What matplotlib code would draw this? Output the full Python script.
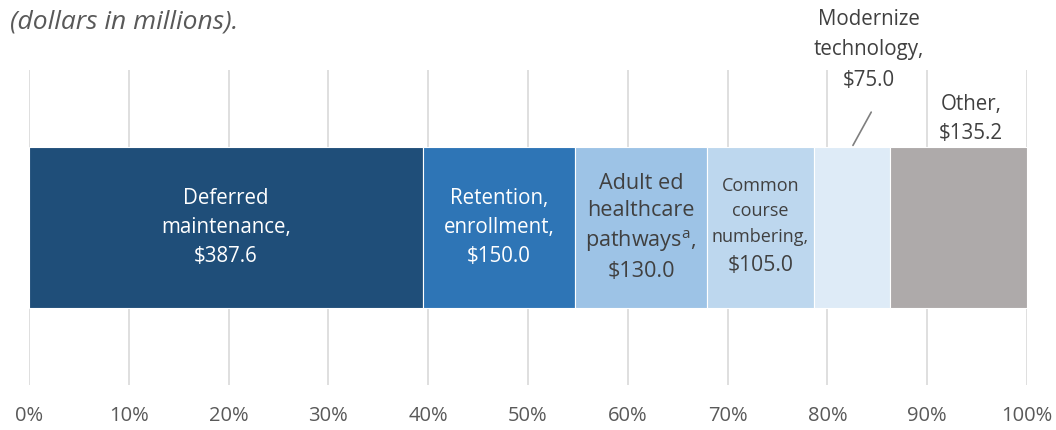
import numpy as np
import matplotlib
matplotlib.use("Agg")
import matplotlib.pyplot as plt

plt.rcParams["font.family"] = ["Open Sans", "DejaVu Sans"]
plt.rcParams["mathtext.fontset"] = "custom"
plt.rcParams["mathtext.rm"] = "Open Sans"

# spending by category, dollars in millions
categories = ["Deferred maintenance", "Retention, enrollment",
              "Adult ed healthcare pathways", "Common course numbering",
              "Modernize technology", "Other"]
amounts = [387.6, 150.0, 130.0, 105.0, 75.0, 135.2]
labels = ["Deferred\nmaintenance,\n$387.6",
          "Retention,\nenrollment,\n$150.0",
          "Adult ed\nhealthcare\npathways$^{\\mathrm{a}}$,\n$130.0",
          "Common\ncourse\nnumbering,",
          "Modernize\ntechnology,\n$75.0",
          "Other,\n$135.2"]
colors = ["#1F4E79", "#2E75B6", "#9DC3E6", "#BDD7EE", "#DEEBF7", "#AEAAAA"]
xticks = np.arange(0, 101, 10)

shares = np.array(amounts) / np.sum(amounts) * 100
lefts = np.concatenate([[0], np.cumsum(shares)[:-1]])
mids = lefts + shares / 2

fig = plt.figure(figsize=(10.56, 4.3), dpi=100)
ax = fig.add_axes([0.0275, 0.105, 0.945, 0.733])

ax.barh([0], shares, left=lefts, height=0.51, color=colors,
        edgecolor="white", linewidth=0.8, zorder=2)

ax.set_xlim(0, 100)
ax.set_ylim(-0.5, 0.5)
ax.set_xticks(xticks)
ax.set_xticklabels([f"{t}%" for t in xticks], fontsize=14.5, color="#595959")
ax.tick_params(axis="x", length=0, pad=15)
ax.set_yticks([])
ax.grid(axis="x", color="#D9D9D9", lw=1.2, zorder=0)
for s in ax.spines.values():
    s.set_visible(False)

# labels inside the bar
ax.text(mids[0], 0, labels[0], ha="center", va="center", fontsize=14.8,
        color="white", linespacing=1.5, zorder=3)
ax.text(mids[1], 0, labels[1], ha="center", va="center", fontsize=14.8,
        color="white", linespacing=1.5, zorder=3)
ax.text(mids[2], 0, labels[2], ha="center", va="center", fontsize=15.6,
        color="#404040", linespacing=1.4, zorder=3)
# common course numbering: smaller name, normal-size amount
ax.text(mids[3], 0.05, labels[3], ha="center", va="center", fontsize=13,
        color="#404040", linespacing=1.55, zorder=3)
ax.text(mids[3], -0.122, f"${amounts[3]:.1f}", ha="center", va="center",
        fontsize=15.2, color="#404040", zorder=3)

# modernize technology sits above the bar with a leader line
ax.annotate("", xy=(mids[4], 0.752), xycoords=("data", "axes fraction"),
            xytext=(mids[4] + 2.1, 0.873), textcoords=("data", "axes fraction"),
            arrowprops=dict(arrowstyle="-", color="#7F7F7F", lw=1.2))
ax.text(mids[4] + 1.7, 1.063, labels[4], transform=ax.get_xaxis_transform(),
        ha="center", va="center", fontsize=14.8, color="#404040",
        linespacing=1.6)

ax.text(94.4, 0.844, labels[5], transform=ax.get_xaxis_transform(),
        ha="center", va="center", fontsize=14.8, color="#404040",
        linespacing=1.5)

fig.text(0.009, 0.948, "(dollars in millions).", fontsize=19,
         style="italic", color="#595959", ha="left", va="center")

fig.savefig("out.png", dpi=100)
